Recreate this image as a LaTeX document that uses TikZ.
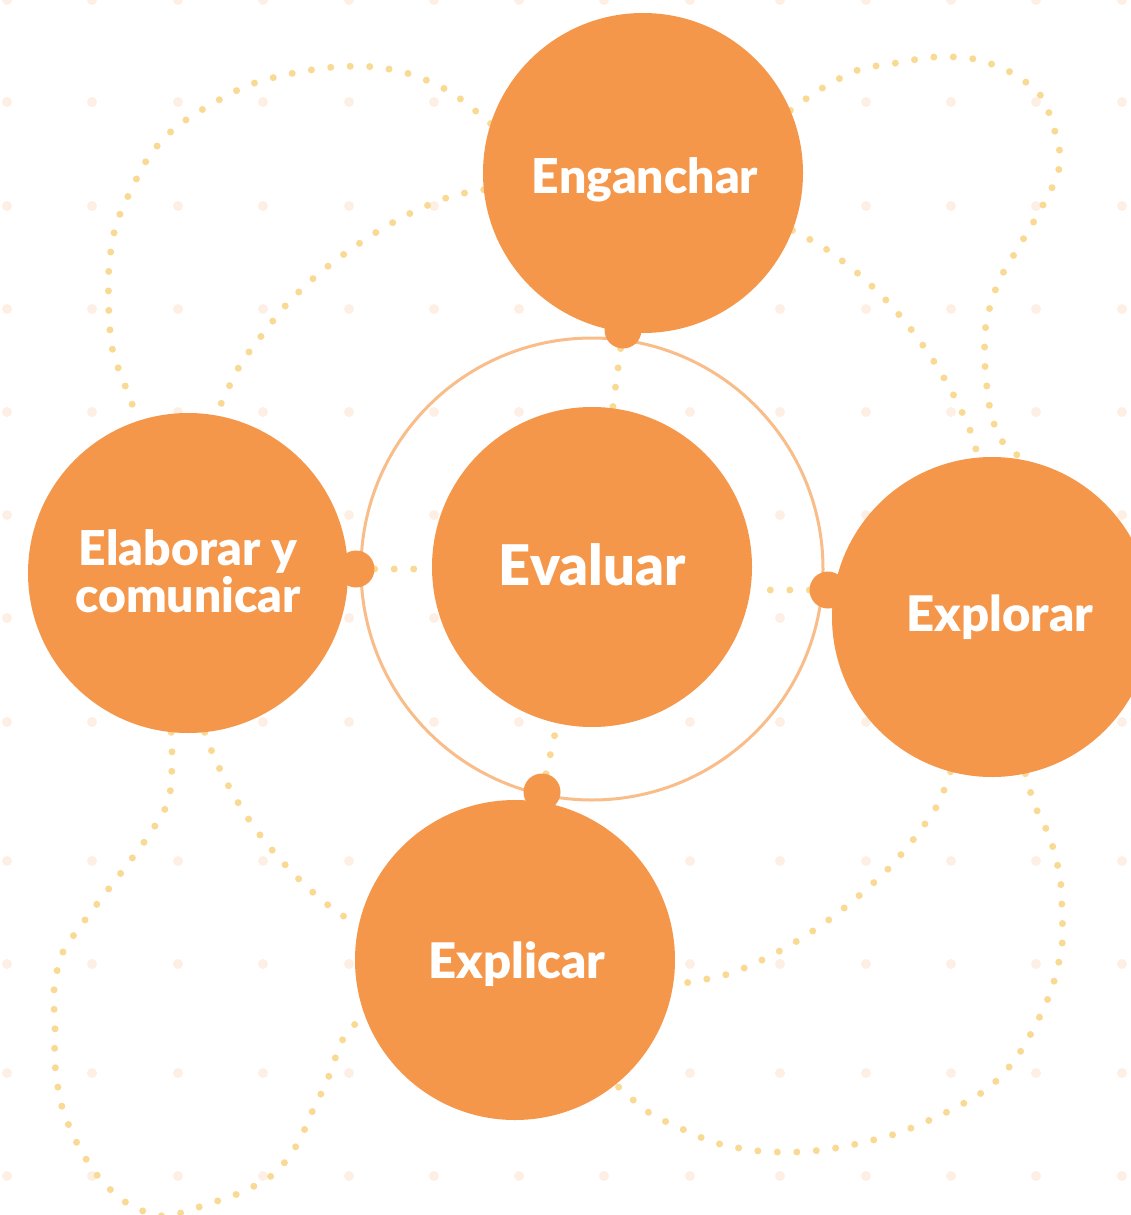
\documentclass[tikz,border=0pt]{standalone}
\usepackage{fontspec}
\setmainfont{Lato}[BoldFont={* Black}]
\usetikzlibrary{backgrounds}
\definecolor{naranja}{HTML}{F5974B}
\definecolor{anillo}{HTML}{F9BD8A}
\definecolor{amarillo}{HTML}{F9DA94}
\definecolor{puntito}{HTML}{FDEFE4}
\tikzset{fase/.style={circle,fill=naranja,minimum size=320pt,inner sep=0pt},
  nudo/.style={circle,fill=naranja,minimum size=37pt,inner sep=0pt},
  sendero/.style={draw=amarillo,line width=7pt,line cap=round,
    dash pattern=on 0pt off 19.5pt},
  rotulo/.style={text=white,anchor=base,align=center,
    font=\fontsize{49}{47}\selectfont\bfseries}}

\begin{document}
\begin{tikzpicture}[x=1pt,y=-1pt]
\useasboundingbox (0,0) rectangle (1130,1215);
\node[fase] (eng) at (643,173) {};
\node[fase] (eva) at (592,567) {};
\node[fase] (ela) at (188,573) {};
\node[fase] (exo) at (992,617) {};
\node[fase] (exi) at (515,960) {};
\node[nudo] (engk) at (623,330) {};
\node[nudo] (elak) at (356,569) {};
\node[nudo] (exok) at (828,590) {};
\node[nudo] (exik) at (542,792) {};
\node[rotulo,font=\fontsize{48}{50}\selectfont\bfseries] at ([xshift=2pt,yshift=-20pt]eng.center) {Enganchar};
\node[rotulo,font=\fontsize{56}{58}\selectfont\bfseries] at ([yshift=-18pt]eva.center) {Evaluar};
\node[rotulo] at ([xshift=8pt,yshift=-14pt]exo.center) {Explorar};
\node[rotulo] at ([xshift=2pt,yshift=-18pt]exi.center) {Explicar};
\node[rotulo,font=\fontsize{48}{47}\selectfont\bfseries] at ([yshift=-39pt]ela.center) {Elaborar y\\comunicar};
\begin{scope}[on background layer]
\foreach \gy in {0,102,206,309,412,515,618,722,861,964,1073,1176}
  \foreach \gx in {7,92,178,263,349,434,519,604,690,780,866,951,1036,1122}
    \fill[puntito] (\gx,\gy) circle[radius=5pt];
\draw[anillo,line width=3pt] (592,569) circle[radius=231pt];
% lazos punteados
\draw[sendero] plot[smooth] coordinates {(eng.162) (452,93) (413,75) (375,67) (334,67)
  (289,74) (249,85) (210,105) (175,128) (150,155) (132,188) (116,225) (109,267)
  (109,315) (113,352) (126,388) (ela.108)};
\draw[sendero] plot[smooth] coordinates {(eng.186) (452,196) (415,211) (380,230)
  (347,252) (316,276) (287,304) (262,335) (239,367) (ela.80)};
\draw[sendero] plot[smooth] coordinates {(eng.23) (819,90) (858,70) (896,63) (935,57)
  (974,59) (1010,72) (1041,96) (1056,135) (1060,157) (1056,179) (1037,216) (1018,248)
  (998,283) (986,324) (985,366) (991,414) (1004,444) (exo.78)};
\draw[sendero] plot[smooth] coordinates {(eng.-21) (823,247) (855,271) (884,298)
  (910,328) (933,360) (953,394) (970,430) (exo.95)};
\draw[sendero] plot[smooth] coordinates {(exo.-105) (938,804) (916,836) (890,867)
  (861,894) (830,919) (797,941) (762,960) (725,975) (exi.-9)};
\draw[sendero] plot[smooth] coordinates {(exo.-78) (1035,806) (1050,838) (1060,877)
  (1062,912) (1062,945) (1052,988) (1035,1026) (1014,1061) (987,1089) (947,1112)
  (901,1132) (865,1142) (830,1149) (797,1152) (759,1151) (716,1143) (680,1128)
  (648,1112) (exi.-51)};
\draw[sendero] plot[smooth] coordinates {(ela.-96) (172,766) (168,802) (149,835)
  (127,865) (104,895) (82,924) (62,954) (54,990) (55,1029) (55,1064) (62,1107)
  (79,1147) (101,1180) (130,1205) (165,1216) (208,1204) (242,1192) (275,1173)
  (298,1143) (312,1112) (327,1081) (343,1039) (exi.-160)};
\draw[sendero] plot[smooth] coordinates {(ela.-84) (215,759) (233,794) (254,827)
  (279,858) (307,887) (337,912) (exi.167)};
% enlaces con el centro
\draw[sendero] (engk) -- (eva);
\draw[sendero] (elak) -- (elak -| eva.west);
\draw[sendero] (exok) -- (exok -| eva.east);
\draw[sendero] (exik) -- (eva);
\end{scope}
\end{tikzpicture}
\end{document}
